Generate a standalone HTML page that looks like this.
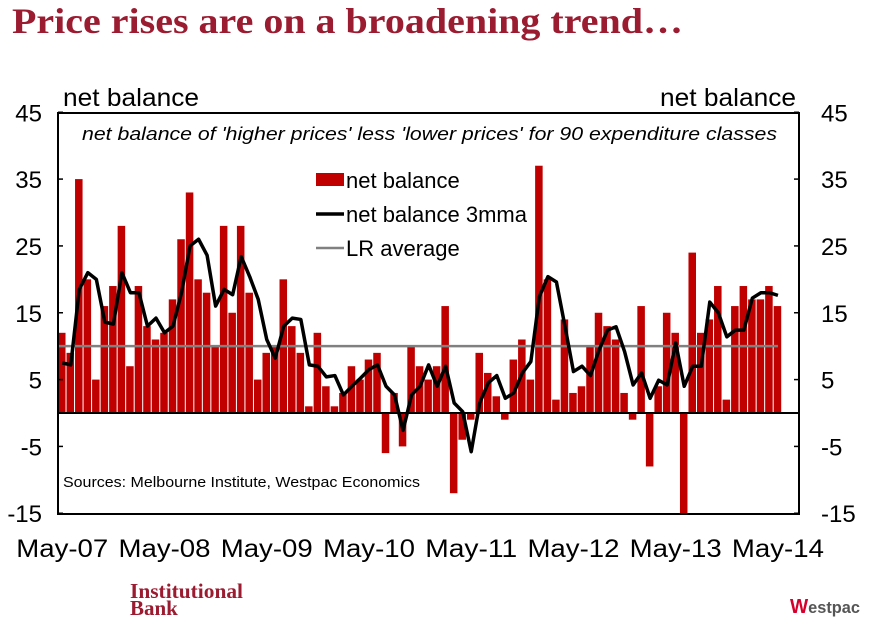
<!DOCTYPE html>
<html><head><meta charset="utf-8"><style>
body{margin:0;background:#fff;width:874px;height:619px;overflow:hidden;font-family:"Liberation Sans",sans-serif}
</style></head><body>
<svg id="c" width="874" height="619" xmlns="http://www.w3.org/2000/svg">
<text x="12" y="33" font-family="Liberation Serif" font-weight="bold" font-size="36" fill="#9b1b30" textLength="671" lengthAdjust="spacingAndGlyphs">Price rises are on a broadening trend…</text>
<text x="63" y="106" font-size="25" textLength="136" lengthAdjust="spacingAndGlyphs">net balance</text>
<text x="660" y="106" font-size="25" textLength="136" lengthAdjust="spacingAndGlyphs">net balance</text>
<text x="82" y="140" font-size="18" font-style="italic" textLength="695" lengthAdjust="spacingAndGlyphs">net balance of 'higher prices' less 'lower prices' for 90 expenditure classes</text>
<g id="marks"></g>
<rect x="58" y="113" width="741" height="401" fill="none" stroke="#000" stroke-width="2"/>
<g>
<rect x="316" y="173" width="28" height="13" fill="#c00000"/>
<text x="346" y="188" font-size="22">net balance</text>
<line x1="316" y1="214" x2="344" y2="214" stroke="#000" stroke-width="3.5"/>
<text x="346" y="222" font-size="22">net balance 3mma</text>
<line x1="316" y1="248" x2="344" y2="248" stroke="#808080" stroke-width="2.5"/>
<text x="346" y="256" font-size="22">LR average</text>
</g>
<text x="63" y="487" font-size="15" textLength="357" lengthAdjust="spacingAndGlyphs">Sources: Melbourne Institute, Westpac Economics</text>
<text x="130" y="598" font-family="Liberation Serif" font-weight="bold" font-size="21" fill="#9b1b30" textLength="113" lengthAdjust="spacingAndGlyphs">Institutional</text>
<text x="130" y="615" font-family="Liberation Serif" font-weight="bold" font-size="21" fill="#9b1b30">Bank</text>
<text x="790" y="613" font-size="17" font-weight="bold" fill="#555" textLength="70" lengthAdjust="spacingAndGlyphs"><tspan fill="#d5002b" font-size="20">W</tspan>estpac</text>
</svg>
<script>
const bars=[12,9,35,20,5,16,19,28,7,19,13,11,12,17,26,33,20,18,10,28,15,28,18,5,9,10,20,13,9,1,12,4,1,3,7,5,8,9,-6,3,-5,10,7,5,7,16,-12,-4,-1,9,6,2.5,-1,8,11,5,37,20,2,14,3,4,10,15,13,11,3,-1,16,-8,4,15,12,-15,24,12,14,19,2,16,19,17,17,19,16];
const mma=[7.5,7.2,18.5,21,20,13.6,13.3,21,18,18,13,14.2,12,13,18,25,26,23.6,16,18.5,17.7,23.4,20.4,17,11,8.2,13,14.2,14,7.2,7,5.4,5.6,2.7,4,5.2,6.5,7.2,4,2.7,-2.6,2.7,4,7.2,4,7,1.5,0.2,-5.8,1.5,4.5,5.6,2.2,3,6,7.7,17.4,20.4,19.6,13,6.2,7,5.6,9.4,12.4,12.9,9.2,4.2,6,2.2,4.9,4.2,10.5,4,7,7,16.6,15,11.4,12.4,12.4,17.2,18,18,17.6];
const lrAvg=10;
const yTicks=[45,35,25,15,5,-5,-15];
const xLabels=["May-07","May-08","May-09","May-10","May-11","May-12","May-13","May-14"];
const NS="http://www.w3.org/2000/svg";
const g=document.getElementById('marks');
const step=8.52,x0=58;
const Y=v=>413-(v)*6.683;
const X=i=>x0+step*i+step/2;
function mk(t,a){const e=document.createElementNS(NS,t);for(const k in a)e.setAttribute(k,a[k]);g.appendChild(e);return e;}
bars.forEach((v,i)=>{
 const r=mk('rect',{x:x0+step*i,y:Math.min(Y(v),Y(0)),width:step-1,height:Math.abs(Y(v)-Y(0)),fill:'#c00000'});
 
 
});
const zl=mk('line',{x1:58,x2:799,y1:Y(0),y2:Y(0),stroke:'#000','stroke-width':2});


const lr=mk('line',{x1:58,x2:X(bars.length-1),y1:Y(lrAvg),y2:Y(lrAvg),stroke:'#808080','stroke-width':2.5});


const pl=mk('polyline',{points:mma.map((v,i)=>X(i)+','+Y(v)).join(' '),fill:'none',stroke:'#000','stroke-width':3.5,'stroke-linejoin':'round'});


yTicks.forEach(v=>{
 const y=Y(v);
 const t1=mk('line',{x1:58,x2:63,y1:y,y2:y,stroke:'#000','stroke-width':1.5});
 
 
 const t2=mk('line',{x1:794,x2:799,y1:y,y2:y,stroke:'#000','stroke-width':1.5});
 
 
 const a=mk('text',{x:42,y:y+9,'font-size':24,'text-anchor':'end'});a.textContent=v;
 
 
 const b=mk('text',{x:821,y:y+9,'font-size':24});b.textContent=v;
 
 
});
xLabels.forEach((s,k)=>{
 const t=mk('text',{x:X(k*12),y:557,'font-size':25,'text-anchor':'middle',textLength:92,lengthAdjust:'spacingAndGlyphs'});t.textContent=s;
 
 
});
</script>
</body></html>
